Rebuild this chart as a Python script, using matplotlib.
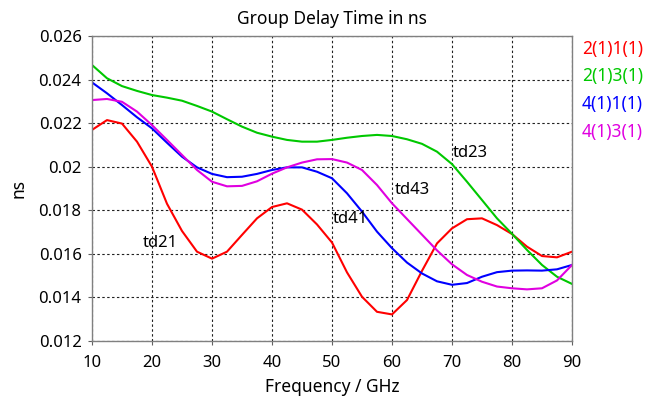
import matplotlib
matplotlib.use("Agg")
import matplotlib.pyplot as plt

# frequency grid (GHz), values every 2.5 GHz
freq = [10, 12.5, 15, 17.5, 20, 22.5, 25, 27.5, 30, 32.5, 35, 37.5, 40, 42.5, 45, 47.5,
        50, 52.5, 55, 57.5, 60, 62.5, 65, 67.5, 70, 72.5, 75, 77.5, 80, 82.5, 85, 87.5, 90]

td21 = [0.02169, 0.02214, 0.02198, 0.02115, 0.02000, 0.01830, 0.01705, 0.01610, 0.01578,
        0.01610, 0.01687, 0.01763, 0.01815, 0.01832, 0.01803, 0.01735, 0.01652, 0.01515,
        0.01403, 0.01334, 0.01322, 0.01388, 0.01522, 0.01648, 0.01717, 0.01759, 0.01763,
        0.01732, 0.01691, 0.01633, 0.01590, 0.01584, 0.01610]
td23 = [0.02467, 0.02406, 0.02370, 0.02348, 0.02329, 0.02317, 0.02303, 0.02279, 0.02253,
        0.02218, 0.02184, 0.02156, 0.02138, 0.02123, 0.02115, 0.02115, 0.02123, 0.02133,
        0.02141, 0.02146, 0.02141, 0.02126, 0.02105, 0.02069, 0.02012, 0.01931, 0.01847,
        0.01763, 0.01692, 0.01618, 0.01549, 0.01495, 0.01462]
td41 = [0.02387, 0.02337, 0.02283, 0.02227, 0.02176, 0.02110, 0.02046, 0.01997, 0.01967,
        0.01952, 0.01954, 0.01967, 0.01985, 0.01997, 0.01997, 0.01977, 0.01947, 0.01878,
        0.01794, 0.01702, 0.01626, 0.01560, 0.01510, 0.01474, 0.01458, 0.01466, 0.01495,
        0.01516, 0.01523, 0.01524, 0.01523, 0.01529, 0.01549]
td43 = [0.02306, 0.02311, 0.02298, 0.02253, 0.02191, 0.02123, 0.02054, 0.01985, 0.01931,
        0.01910, 0.01912, 0.01933, 0.01968, 0.01997, 0.02019, 0.02034, 0.02035, 0.02019,
        0.01985, 0.01916, 0.01832, 0.01760, 0.01688, 0.01616, 0.01552, 0.01503, 0.01472,
        0.01450, 0.01442, 0.01437, 0.01442, 0.01478, 0.01549]

series = [td21, td23, td41, td43]
names = ["2(1)1(1)", "2(1)3(1)", "4(1)1(1)", "4(1)3(1)"]
colors = ["#ff0000", "#00c800", "#0000ff", "#e000e0"]

# curve labels: (text, freq, value)
tags = [("td21", 18.5, 0.01649), ("td41", 50.2, 0.01759),
        ("td43", 60.5, 0.01893), ("td23", 70.1, 0.02064)]

xticks = [10, 20, 30, 40, 50, 60, 70, 80, 90]
yticks = [0.012, 0.014, 0.016, 0.018, 0.02, 0.022, 0.024, 0.026]
yticklabels = ["0.012", "0.014", "0.016", "0.018", "0.02", "0.022", "0.024", "0.026"]

plt.rcParams["font.family"] = ["Noto Sans", "DejaVu Sans"]

fig = plt.figure(figsize=(6.64, 4.0), dpi=100)
ax = fig.add_axes([92 / 664, 1 - 341 / 400, 480 / 664, 305 / 400])

for vals, c in zip(series, colors):
    ax.plot(freq, vals, color=c, lw=1.5, solid_joinstyle="round")

ax.set_xlim(10, 90)
ax.set_ylim(0.012, 0.026)
ax.set_xticks(xticks)
ax.set_yticks(yticks)
ax.set_yticklabels(yticklabels)
ax.grid(True, color="#202020", linestyle=(0, (2.2, 2.2)), linewidth=0.8)
ax.tick_params(direction="out", length=3, width=0.8, colors="#606060",
               labelcolor="black", labelsize=12)
ax.tick_params(axis="x", pad=7)
ax.tick_params(axis="y", pad=4.5)
for s in ax.spines.values():
    s.set_color("#808080")
    s.set_linewidth(1.0)

for t, fx, fy in tags:
    ax.text(fx, fy, t, fontsize=12, ha="left", va="center")

ax.set_title("Group Delay Time in ns", fontsize=12.5, pad=9)
ax.set_xlabel("Frequency / GHz", fontsize=12.5, labelpad=5)
ax.set_ylabel("ns", fontsize=12.5, labelpad=8)

for i, (n, c) in enumerate(zip(names, colors)):
    fig.text(582 / 664, 1 - (49 + 27.5 * i) / 400, n, color=c, fontsize=12.5,
             ha="left", va="center")

fig.savefig("out.png", dpi=100)
